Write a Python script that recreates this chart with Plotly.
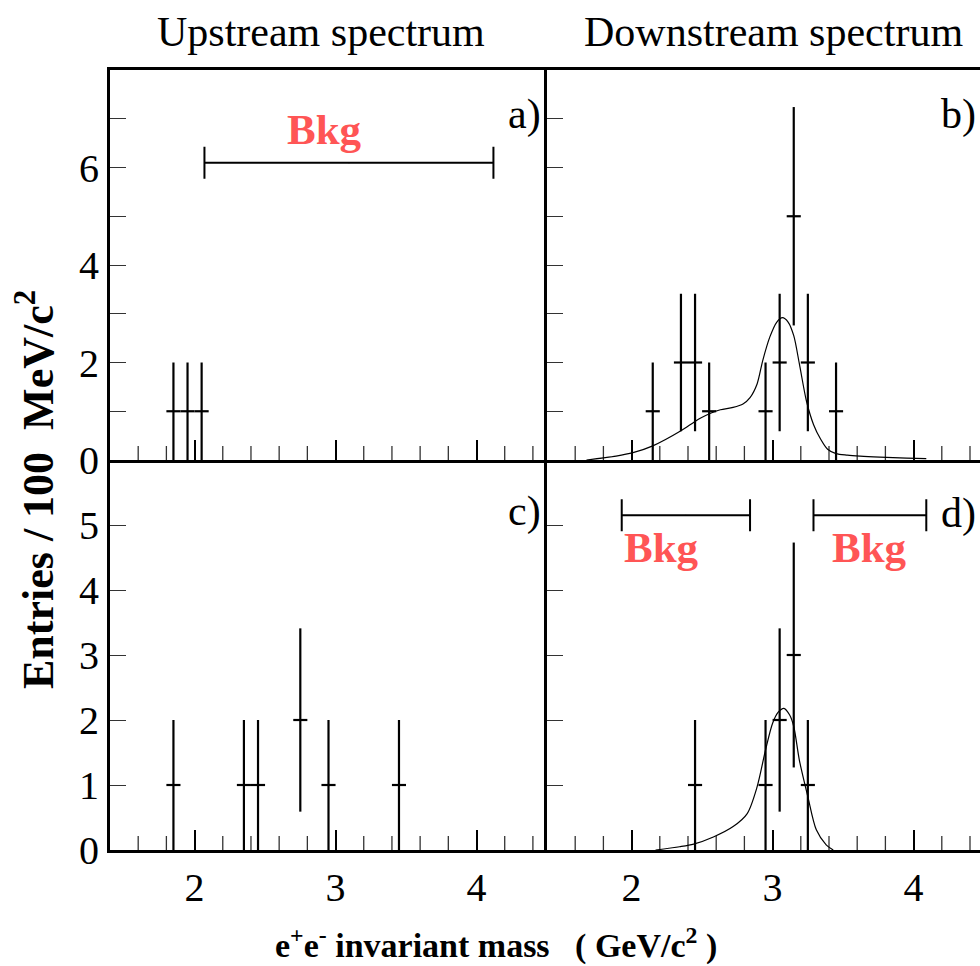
import plotly.graph_objects as go
from plotly.subplots import make_subplots

# ---------------- data ----------------
bin_width = 0.1

# a) upstream
a_mass = [1.85, 1.95, 2.05]
a_counts = [1, 1, 1]
a_err = [1, 1, 1]

# b) downstream
b_mass = [2.15, 2.35, 2.45, 2.55, 2.95, 3.05, 3.15, 3.25, 3.45]
b_counts = [1, 2, 2, 1, 1, 2, 5, 2, 1]
b_err = [1, 1.41, 1.41, 1, 1, 1.41, 2.24, 1.41, 1]

# c) upstream
c_mass = [1.85, 2.35, 2.45, 2.75, 2.95, 3.45]
c_counts = [1, 1, 1, 2, 1, 1]
c_err = [1, 1, 1, 1.41, 1, 1]

# d) downstream
d_mass = [2.45, 2.95, 3.05, 3.15, 3.25]
d_counts = [1, 1, 2, 3, 1]
d_err = [1, 1, 1.41, 1.73, 1]

# fit curves
b_fit_x = [1.68, 1.89, 2.01, 2.15, 2.35, 2.44, 2.49, 2.56, 2.63, 2.72, 2.79, 2.84,
           2.89, 2.93, 2.98, 3.03, 3.07, 3.11, 3.15, 3.19, 3.24, 3.29, 3.34, 3.39,
           3.45, 3.53, 3.62, 3.76, 3.95, 4.09]
b_fit_y = [0.0, 0.08, 0.15, 0.29, 0.60, 0.77, 0.86, 0.96, 1.03, 1.08, 1.15, 1.28,
           1.56, 2.04, 2.52, 2.83, 2.92, 2.83, 2.55, 1.97, 1.21, 0.73, 0.43, 0.22,
           0.13, 0.10, 0.08, 0.06, 0.04, 0.03]

d_fit_x = [2.17, 2.34, 2.44, 2.58, 2.72, 2.82, 2.89, 2.95, 3.00, 3.04, 3.08, 3.12,
           3.15, 3.19, 3.25, 3.31, 3.38, 3.43]
d_fit_y = [0.0, 0.05, 0.09, 0.20, 0.36, 0.56, 0.97, 1.54, 1.95, 2.12, 2.18, 2.08,
           1.90, 1.38, 0.82, 0.31, 0.08, 0.0]

# background windows: (low, high, level)
a_bkg = [(2.07, 4.12, 6.1)]
d_bkg = [(1.93, 2.84, 5.15), (3.29, 4.09, 5.15)]
# background labels: (mass, level)
a_bkg_labels = [(2.92, 6.78)]
d_bkg_labels = [(2.21, 4.66), (3.69, 4.66)]

top_yticks = [0, 2, 4, 6]
top_ylabels = ["0", "2", "4", "6"]
top_yminor = [1, 3, 5, 7]
bot_yticks = [0, 1, 2, 3, 4, 5]
bot_ylabels = ["0", "1", "2", "3", "4", "5"]
x_ticks = [2, 3, 4]
x_labels = ["2", "3", "4"]
x_minor = [1.6, 1.8, 2.2, 2.4, 2.6, 2.8, 3.2, 3.4, 3.6, 3.8, 4.2, 4.4]

panel_titles = ["Upstream spectrum", "Downstream spectrum"]
panel_tags = ["a)", "b)", "c)", "d)"]

# ---------------- figure ----------------
FONT = "Liberation Serif, Times New Roman, serif"
BKG_COLOR = "#ff5555"

fig = make_subplots(rows=2, cols=2, horizontal_spacing=0, vertical_spacing=0)


def add_minor_ticks(row, col):
    # minor tick marks along the bottom axis, half of the marker is clipped by the axis
    fig.add_trace(go.Scatter(
        x=x_minor, y=[0] * len(x_minor), mode="markers", cliponaxis=True,
        marker=dict(symbol="line-ns", size=20, color="#333",
                    line=dict(width=1.3, color="#333")),
        showlegend=False, hoverinfo="skip"), row=row, col=col)


def add_points(row, col, xs, ys, errs):
    fig.add_trace(go.Scatter(
        x=xs, y=ys, mode="markers",
        marker=dict(size=1, color="black"),
        error_y=dict(type="data", array=errs, arrayminus=errs, width=0,
                     thickness=2.2, color="black"),
        error_x=dict(type="data", array=[bin_width / 2] * len(xs), width=0,
                     thickness=2.2, color="black"),
        showlegend=False, hoverinfo="skip"), row=row, col=col)


def add_bkg(row, col, windows):
    for lo, hi, lvl in windows:
        mid = (lo + hi) / 2
        fig.add_trace(go.Scatter(
            x=[mid], y=[lvl], mode="markers", marker=dict(size=1, color="black"),
            error_x=dict(type="data", array=[hi - mid], width=16, thickness=2,
                         color="black"),
            showlegend=False, hoverinfo="skip"), row=row, col=col)


for r in (1, 2):
    for c in (1, 2):
        add_minor_ticks(r, c)

add_points(1, 1, a_mass, a_counts, a_err)
add_points(1, 2, b_mass, b_counts, b_err)
add_points(2, 1, c_mass, c_counts, c_err)
add_points(2, 2, d_mass, d_counts, d_err)

fig.add_trace(go.Scatter(x=b_fit_x, y=b_fit_y, mode="lines",
                         line=dict(color="black", width=1.2, shape="spline", smoothing=0.8),
                         showlegend=False, hoverinfo="skip"), row=1, col=2)
fig.add_trace(go.Scatter(x=d_fit_x, y=d_fit_y, mode="lines",
                         line=dict(color="black", width=1.2, shape="spline", smoothing=0.8),
                         showlegend=False, hoverinfo="skip"), row=2, col=2)

add_bkg(1, 1, a_bkg)
add_bkg(2, 2, d_bkg)

# ---------------- axes ----------------
W, H = 980, 966
ml, mr, mt, mb = 110, 0, 70, 116
pw = W - ml - mr
split = 437 / pw
left_range = [1.4, 4.5]
right_range = [1.4, 1.4 + (pw - 437) / 141.0]

common_x = dict(showline=True, linewidth=3, linecolor="black",
                ticks="inside", ticklen=20, tickwidth=1.5, tickcolor="black",
                tickmode="array", tickvals=x_ticks, ticktext=x_labels,
                showgrid=False, zeroline=False,
                tickfont=dict(family=FONT, size=40, color="black"))
common_y = dict(showline=True, linewidth=3, linecolor="black",
                ticks="inside", ticklen=16, tickwidth=1.3, tickcolor="#333",
                tickmode="array", showgrid=False, zeroline=False, mirror=False,
                tickfont=dict(family=FONT, size=40, color="black"))

fig.update_xaxes(**common_x)
fig.update_yaxes(**common_y)

top_minor = dict(tickmode="array", tickvals=top_yminor, ticks="inside", ticklen=16,
                 tickwidth=1.3, tickcolor="#333")

fig.update_layout(
    xaxis=dict(domain=[0, split], range=left_range, showticklabels=False, mirror=True),
    xaxis2=dict(domain=[split, 1], range=right_range, showticklabels=False, mirror=True),
    xaxis3=dict(domain=[0, split], range=left_range, mirror=False),
    xaxis4=dict(domain=[split, 1], range=right_range, mirror=False),
    yaxis=dict(domain=[0.5, 1], range=[0, 8], tickvals=top_yticks, ticktext=top_ylabels,
               minor=top_minor),
    yaxis2=dict(domain=[0.5, 1], range=[0, 8], tickvals=top_yticks, ticktext=top_ylabels,
                minor=top_minor, showticklabels=False),
    yaxis3=dict(domain=[0, 0.5], range=[0, 6], tickvals=bot_yticks, ticktext=bot_ylabels),
    yaxis4=dict(domain=[0, 0.5], range=[0, 6], tickvals=bot_yticks, ticktext=bot_ylabels,
                showticklabels=False),
)

annotations = []
# Bkg labels
for (m, lvl) in a_bkg_labels:
    annotations.append(dict(x=m, y=lvl, xref="x", yref="y", text="<b>Bkg</b>",
                            showarrow=False, font=dict(family=FONT, size=43, color=BKG_COLOR)))
for (m, lvl) in d_bkg_labels:
    annotations.append(dict(x=m, y=lvl, xref="x4", yref="y4", text="<b>Bkg</b>",
                            showarrow=False, font=dict(family=FONT, size=43, color=BKG_COLOR)))

# panel tags
tag_pos = [("x", "y", 0.99, 0.885), ("x2", "y2", 0.995, 0.885),
           ("x3", "y3", 0.99, 0.869), ("x4", "y4", 0.995, 0.864)]
for tag, (xr, yr, tx, ty) in zip(panel_tags, tag_pos):
    annotations.append(dict(x=tx, y=ty, xref=xr + " domain", yref=yr + " domain",
                            text=tag, showarrow=False, xanchor="right", yanchor="middle",
                            font=dict(family=FONT, size=42, color="black")))

# column titles
for title, tx in zip(panel_titles, [(321 - ml) / pw, (773 - ml) / pw]):
    annotations.append(dict(x=tx, y=1, xref="paper", yref="paper", yshift=38,
                            text=title, showarrow=False, xanchor="center", yanchor="middle",
                            font=dict(family=FONT, size=42, color="black")))

# axis titles
annotations.append(dict(x=(496 - ml) / pw, y=0, xref="paper", yref="paper", yshift=-93,
                        xanchor="center",
                        text="<b>e<sup>+</sup>e<sup>-</sup> invariant mass\u00a0\u00a0\u00a0( GeV/c<sup>2</sup> )</b>",
                        showarrow=False, yanchor="middle",
                        font=dict(family=FONT, size=34, color="black")))
annotations.append(dict(x=(35 - ml) / pw, y=(850 - 490) / 780, xref="paper", yref="paper",
                        text="<b>Entries / 100\u00a0\u00a0MeV/c<sup>2</sup></b>",
                        showarrow=False, textangle=-90, xanchor="center", yanchor="middle",
                        font=dict(family=FONT, size=44, color="black")))

fig.update_layout(
    width=W, height=H,
    margin=dict(l=ml, r=mr, t=mt, b=mb, pad=0),
    paper_bgcolor="white", plot_bgcolor="white",
    annotations=annotations,
    showlegend=False,
)

fig.write_html("out.html")
